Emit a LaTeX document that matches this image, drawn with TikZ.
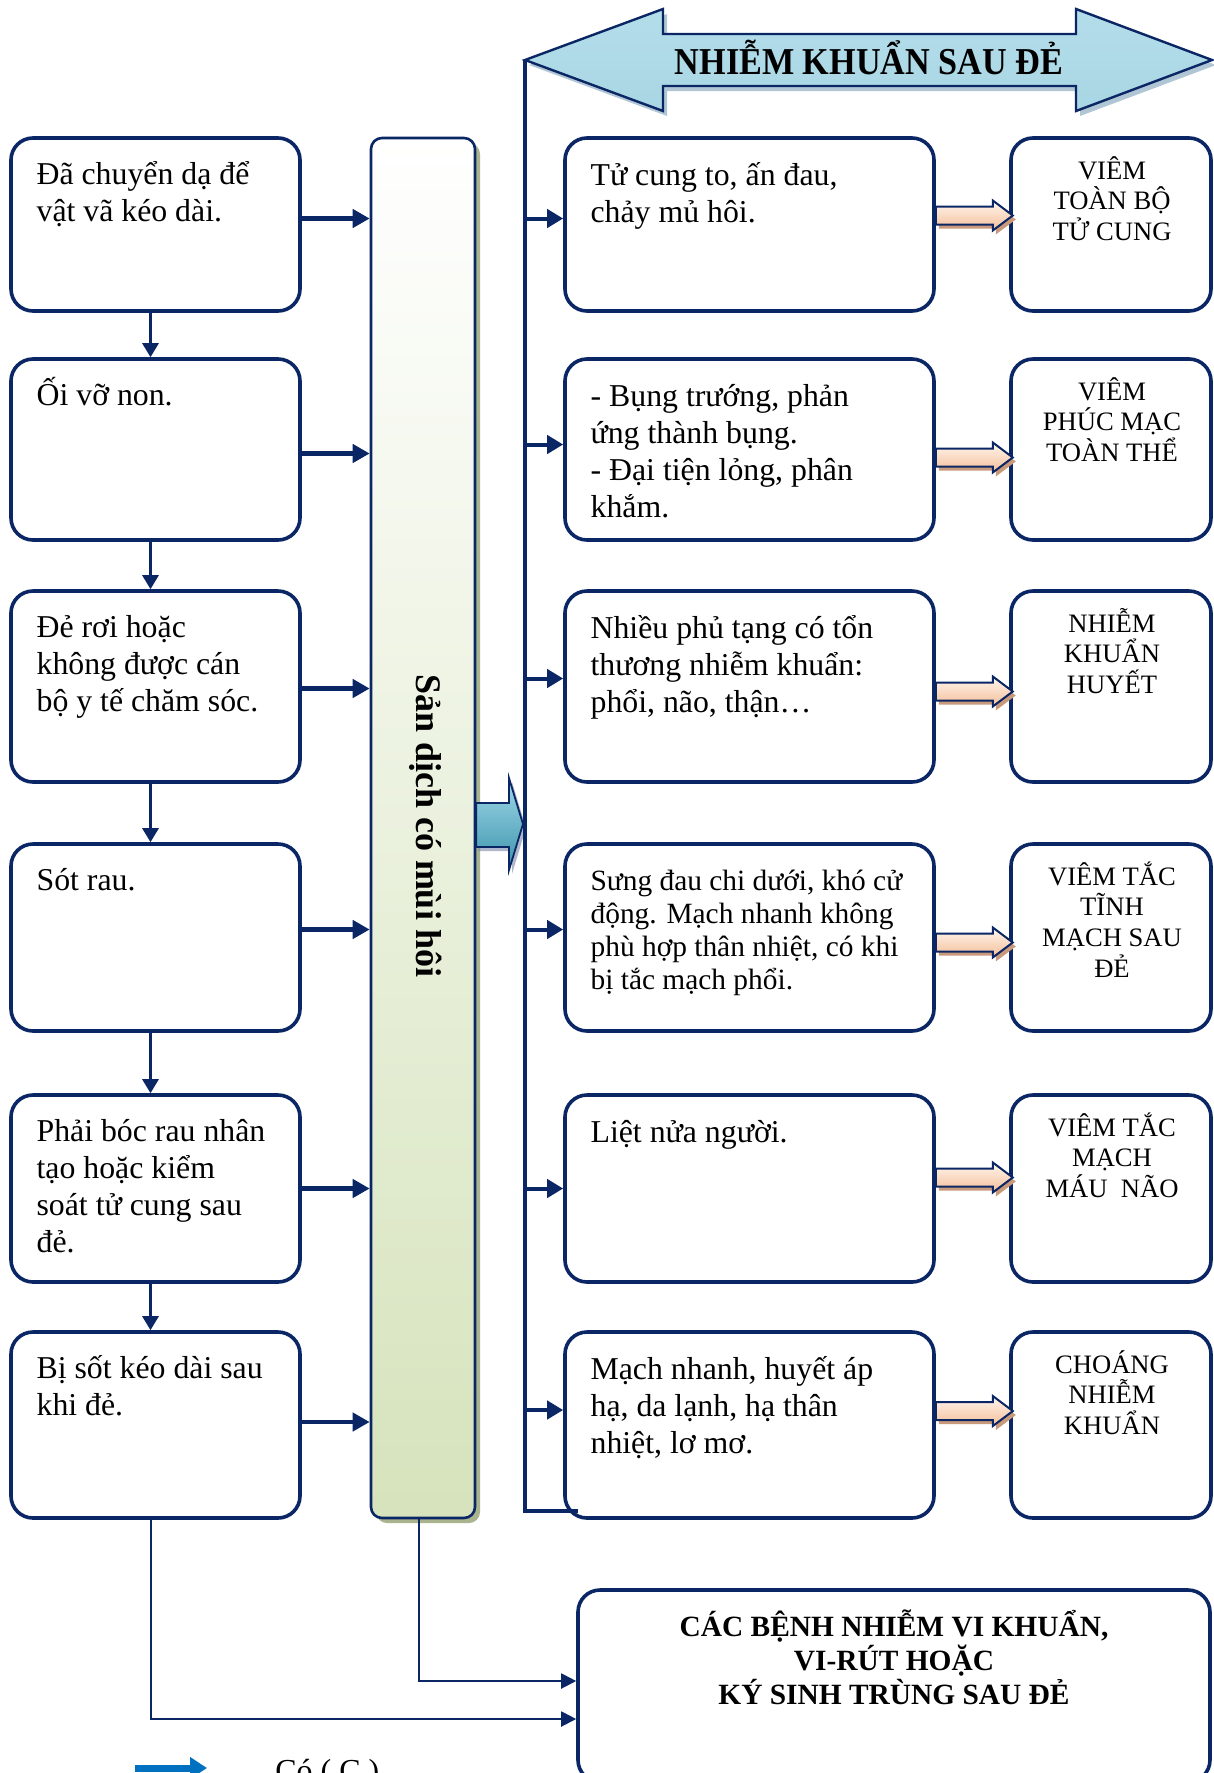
\documentclass[tikz,border=0pt]{standalone}
\usepackage{fontspec}
\setmainfont{Liberation Serif}
\usetikzlibrary{arrows.meta,calc}
\definecolor{navy}{HTML}{0B2665}
\definecolor{colgreen}{HTML}{D6E3BC}
\definecolor{colshadow}{HTML}{A9B38E}
\definecolor{skytop}{HTML}{B4DDEA}
\definecolor{skymid}{HTML}{E4F2F7}
\definecolor{skybot}{HTML}{A9D6E4}
\definecolor{skyshadow}{HTML}{8FAFC4}
\definecolor{tealtop}{HTML}{A0D8E8}
\definecolor{tealmid}{HTML}{4BACC6}
\definecolor{tealbot}{HTML}{3B93AC}
\definecolor{peachtop}{HTML}{FFF6EF}
\definecolor{peachbot}{HTML}{F4BE98}
\definecolor{peachshadow}{HTML}{C8997A}
\definecolor{legendblue}{HTML}{0070C0}

\begin{document}
\begin{tikzpicture}[x=0.5pt,y=-0.5pt,
  box/.style={draw=navy,line width=1.8pt,rounded corners=11pt,fill=white,inner sep=0pt},
  lbox/.style={box,minimum width=144.5pt},
  mbox/.style={box,minimum width=184.5pt},
  rbox/.style={box,minimum width=100pt},
  bodytext/.style={anchor=north west,inner sep=0pt,align=left,font=\fontsize{15.9}{18.5}\selectfont},
  smalltext/.style={anchor=north west,inner sep=0pt,align=left,font=\fontsize{14.7}{16.6}\selectfont},
  captext/.style={anchor=north,inner sep=0pt,align=center,font=\fontsize{13.3}{15.3}\selectfont},
  feed/.style={draw=navy,line width=2.3pt,-{Triangle[length=8.5pt,width=9pt]}},
  chainarr/.style={draw=navy,line width=1.4pt,-{Triangle[length=7pt,width=8pt]}},
  busline/.style={draw=navy,line width=1.8pt},
  tap/.style={draw=navy,line width=2pt,-{Triangle[length=8pt,width=9pt]}},
  lowarr/.style={draw=navy,line width=1pt,-{Triangle[length=7.5pt,width=7.5pt]}},
  pics/hollowarrow/.style={code={
    \fill[peachshadow] (3,-5) -- (60,-5) -- (60,-11) -- (80,4) -- (60,19) -- (60,13) -- (3,13) -- cycle;
    \draw[navy,line width=1pt,top color=peachtop,bottom color=peachbot]
      (0,-9) -- (57,-9) -- (57,-15) -- (77,0) -- (57,15) -- (57,9) -- (0,9) -- cycle;
  }},
]
\clip (0,0) rectangle (1214,1773);
\fill[white] (0,0) rectangle (1214,1773);

% ---------- title double arrow ----------
\fill[skyshadow,opacity=.7] (529,65) -- (667,14) -- (667,39) -- (1080,39) -- (1080,14) -- (1216,65)
  -- (1080,116) -- (1080,91) -- (667,91) -- (667,116) -- cycle;
\draw[navy,line width=1.2pt,top color=skytop,middle color=skymid,bottom color=skybot]
  (525,60) -- (663,9) -- (663,34) -- (1076,34) -- (1076,9) -- (1212,60)
  -- (1076,111) -- (1076,86) -- (663,86) -- (663,111) -- cycle;
\node[font=\bfseries\fontsize{19}{22}\selectfont,xscale=0.9,anchor=base,inner sep=0pt]
  (title) at (869,74) {NHIỄM KHUẨN SAU ĐẺ};
\coordinate (ltip) at (525,60);

% ---------- left column: risk factors ----------
\node[lbox,minimum height=86.5pt] (L1) at (155.5,224.5) {};
\node[lbox,minimum height=90.5pt] (L2) at (155.5,449.5) {};
\node[lbox,minimum height=95.5pt] (L3) at (155.5,686.5) {};
\node[lbox,minimum height=93.5pt] (L4) at (155.5,937.5) {};
\node[lbox,minimum height=93.5pt] (L5) at (155.5,1188.5) {};
\node[lbox,minimum height=93pt]   (L6) at (155.5,1425) {};

\node[bodytext] (L1t) at ($(L1.north west)+(27,16)$) {\rule{0pt}{16pt}Đã chuyển dạ để\\vật vã kéo dài.};
\node[bodytext] (L2t) at ($(L2.north west)+(27,16)$) {\rule{0pt}{16pt}Ối vỡ non.};
\node[bodytext] (L3t) at ($(L3.north west)+(27,16)$) {\rule{0pt}{16pt}Đẻ rơi hoặc\\không được cán\\bộ y tế chăm sóc.};
\node[bodytext] (L4t) at ($(L4.north west)+(27,16)$) {\rule{0pt}{16pt}Sót rau.};
\node[bodytext] (L5t) at ($(L5.north west)+(27,16)$) {\rule{0pt}{16pt}Phải bóc rau nhân\\tạo hoặc kiểm\\soát tử cung sau\\đẻ.};
\node[bodytext] (L6t) at ($(L6.north west)+(27,16)$) {\rule{0pt}{16pt}Bị sốt kéo dài sau\\khi đẻ.};

% ---------- central vertical bar ----------
\fill[colshadow,rounded corners=5.5pt] (376,143) rectangle (480,1523);
\node[draw=navy,line width=1.3pt,rounded corners=5.5pt,top color=white,bottom color=colgreen,
  minimum width=52pt,minimum height=690pt,inner sep=0pt] (C) at (423,828) {};
\node[rotate=-90,font=\bfseries\fontsize{18}{20}\selectfont,inner sep=0pt] (Ct) at (426,826) {Sản dịch có mùi hôi};

% ---------- middle column: signs ----------
\node[mbox,minimum height=86.5pt] (M1) at (749.5,224.5) {};
\node[mbox,minimum height=90.5pt] (M2) at (749.5,449.5) {};
\node[mbox,minimum height=95.5pt] (M3) at (749.5,686.5) {};
\node[mbox,minimum height=93.5pt] (M4) at (749.5,937.5) {};
\node[mbox,minimum height=93.5pt] (M5) at (749.5,1188.5) {};
\node[mbox,minimum height=93pt]   (M6) at (749.5,1425) {};

\node[bodytext] (M1t) at ($(M1.north west)+(27,17)$) {\rule{0pt}{16pt}Tử cung to, ấn đau,\\chảy mủ hôi.};
\node[bodytext] (M2t) at ($(M2.north west)+(27,17)$) {\rule{0pt}{16pt}- Bụng trướng, phản\\ứng thành bụng.\\- Đại tiện lỏng, phân\\khắm.};
\node[bodytext] (M3t) at ($(M3.north west)+(27,17)$) {\rule{0pt}{16pt}Nhiều phủ tạng có tổn\\thương nhiễm khuẩn:\\phổi, não, thận…};
\node[smalltext] (M4t) at ($(M4.north west)+(27,18)$) {\rule{0pt}{14.7pt}Sưng đau chi dưới, khó cử\\động. Mạch nhanh không\\phù hợp thân nhiệt, có khi\\bị tắc mạch phổi.};
\node[bodytext] (M5t) at ($(M5.north west)+(27,17)$) {\rule{0pt}{16pt}Liệt nửa người.};
\node[bodytext] (M6t) at ($(M6.north west)+(27,17)$) {\rule{0pt}{16pt}Mạch nhanh, huyết áp\\hạ, da lạnh, hạ thân\\nhiệt, lơ mơ.};

% ---------- right column: diagnoses ----------
\node[rbox,minimum height=86.5pt] (R1) at (1111,224.5) {};
\node[rbox,minimum height=90.5pt] (R2) at (1111,449.5) {};
\node[rbox,minimum height=95.5pt] (R3) at (1111,686.5) {};
\node[rbox,minimum height=93.5pt] (R4) at (1111,937.5) {};
\node[rbox,minimum height=93.5pt] (R5) at (1111,1188.5) {};
\node[rbox,minimum height=93pt]   (R6) at (1111,1425) {};

\node[captext] (R1t) at ($(R1.north)+(1,16)$) {\rule{0pt}{13.3pt}VIÊM\\TOÀN BỘ\\TỬ CUNG};
\node[captext] (R2t) at ($(R2.north)+(1,16)$) {\rule{0pt}{13.3pt}VIÊM\\PHÚC MẠC\\TOÀN THỂ};
\node[captext] (R3t) at ($(R3.north)+(1,16)$) {\rule{0pt}{13.3pt}NHIỄM\\KHUẨN\\HUYẾT};
\node[captext] (R4t) at ($(R4.north)+(1,16)$) {\rule{0pt}{13.3pt}VIÊM TẮC\\TĨNH\\MẠCH SAU\\ĐẺ};
\node[captext] (R5t) at ($(R5.north)+(1,16)$) {\rule{0pt}{13.3pt}VIÊM TẮC\\MẠCH\\MÁU\ \ NÃO};
\node[captext] (R6t) at ($(R6.north)+(1,16)$) {\rule{0pt}{13.3pt}CHOÁNG\\NHIỄM\\KHUẨN};

% ---------- bottom box ----------
\node[box,minimum width=316pt,minimum height=96pt] (B) at (894,1686) {};
\node[anchor=north,align=center,inner sep=0pt,font=\bfseries\fontsize{14.7}{17}\selectfont]
  (Bt) at ($(B.north)+(0,18)$) {\rule{0pt}{15pt}CÁC BỆNH NHIỄM VI KHUẨN,\\VI-RÚT HOẶC\\KÝ SINH TRÙNG SAU ĐẺ};

% ---------- connectors: left chain ----------
\draw[chainarr] ($(L1.south)+(-5,0)$) -- ($(L2.north)+(-5,0)$);
\draw[chainarr] ($(L2.south)+(-5,0)$) -- ($(L3.north)+(-5,0)$);
\draw[chainarr] ($(L3.south)+(-5,0)$) -- ($(L4.north)+(-5,0)$);
\draw[chainarr] ($(L4.south)+(-5,0)$) -- ($(L5.north)+(-5,0)$);
\draw[chainarr] ($(L5.south)+(-5,0)$) -- ($(L6.north)+(-5,0)$);

% ---------- connectors: left boxes into the bar ----------
\draw[feed] ($(L1.east)+(0,-6)$) -- ($(L1.east -| C.west)+(0,-6)$);
\draw[feed] ($(L2.east)+(0,4)$)  -- ($(L2.east -| C.west)+(0,4)$);
\draw[feed] ($(L3.east)+(0,2)$)  -- ($(L3.east -| C.west)+(0,2)$);
\draw[feed] ($(L4.east)+(0,-8)$) -- ($(L4.east -| C.west)+(0,-8)$);
\draw[feed] (L5.east) -- (L5.east -| C.west);
\draw[feed] ($(L6.east)+(0,-3)$) -- ($(L6.east -| C.west)+(0,-3)$);

% ---------- block arrow from the bar to the bus ----------
\fill[navy!55,opacity=.6] (478,807) -- (512,807) -- (512,782) -- (526,828) -- (512,874) -- (512,851) -- (478,851) -- cycle;
\draw[navy,line width=0.9pt,top color=tealtop,middle color=tealmid,bottom color=tealbot]
  (C.east |- 0,803) -- (509,803) -- (509,778) -- (523,824) -- (509,870) -- (509,847) -- (C.east |- 0,847) -- cycle;

% ---------- bus and taps into middle boxes ----------
\coordinate (busend) at (578,1511);
\draw[busline] (ltip) |- (busend);
\draw[tap] ($(ltip |- M1.west)+(0,-6)$)  -- ($(M1.west)+(0,-6)$);
\draw[tap] ($(ltip |- M2.west)+(0,-5)$)  -- ($(M2.west)+(0,-5)$);
\draw[tap] ($(ltip |- M3.west)+(0,-8)$)  -- ($(M3.west)+(0,-8)$);
\draw[tap] ($(ltip |- M4.west)+(0,-8)$)  -- ($(M4.west)+(0,-8)$);
\draw[tap] (ltip |- M5.west) -- (M5.west);
\draw[tap] ($(ltip |- M6.west)+(0,-15)$) -- ($(M6.west)+(0,-15)$);

% ---------- hollow arrows to diagnoses ----------
\pic at ($(M1.east)+(0,-9)$) {hollowarrow};
\pic at ($(M2.east)+(0,8)$)  {hollowarrow};
\pic at ($(M3.east)+(0,5)$)  {hollowarrow};
\pic at ($(M4.east)+(0,5)$)  {hollowarrow};
\pic at ($(M5.east)+(0,-11)$) {hollowarrow};
\pic at ($(M6.east)+(0,-14)$) {hollowarrow};

% ---------- connectors into the bottom box ----------
\draw[lowarr] ($(C.south)+(-4,0)$) |- ($(B.west)+(0,-5)$);
\draw[lowarr] ($(L6.south)+(-5,0)$) |- ($(B.west)+(0,33)$);

% ---------- legend ----------
\coordinate (lgA) at (135,1768);
\coordinate (lgB) at (207,1768);
\draw[legendblue,line width=3.5pt,-{Triangle[length=8.5pt,width=10.5pt]}] (lgA) -- (lgB);
\node[anchor=base west,inner sep=0pt,font=\fontsize{16}{18}\selectfont] (lgT) at (275,1781) {Có ( C )};
\end{tikzpicture}
\end{document}
